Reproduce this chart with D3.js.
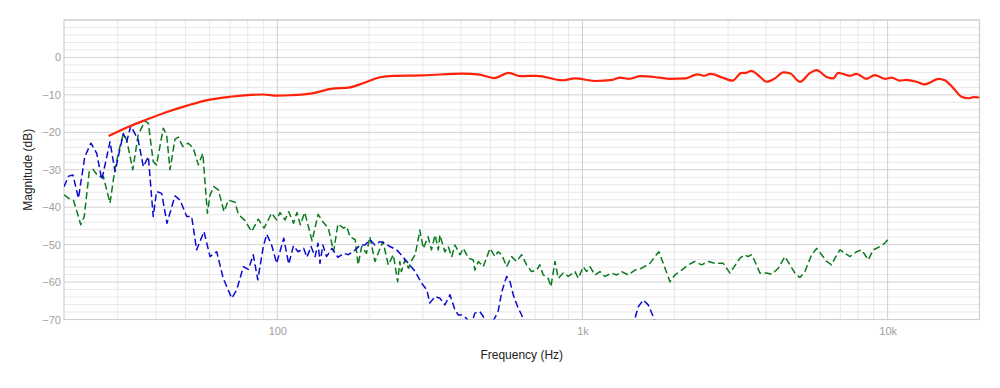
<!DOCTYPE html>
<html>
<head>
<meta charset="utf-8">
<script src="https://cdn.jsdelivr.net/npm/d3@7"></script>
<style>
  body { margin: 0; background: #fff; }
  svg { font-family: "Liberation Sans", Arial, sans-serif; }
  .tick text { fill: #a0a0a0; font-size: 11px; }
  .axis-title { fill: #222; font-size: 12px; }
</style>
</head>
<body>
<svg width="1000" height="388"></svg>
<script>
// mesure principale (rouge)
const redFreq = [28, 33, 37, 43, 50, 59, 70, 82, 90, 100, 110, 130, 150, 173, 191, 217, 240, 300, 405, 460, 513, 574, 625, 708, 860, 945,
  1110, 1250, 1330, 1420, 1550, 1790, 1930, 2180, 2380, 2500, 2630, 2880, 3100, 3310, 3440, 3570, 3810, 4010, 4270, 4550, 4800,
  5160, 5560, 5850, 6310, 6630, 6890, 7520, 7910, 8530, 9080, 9800, 10300, 10970, 11500, 12440, 13250, 13930, 14650, 15400,
  16420, 17470, 18390, 19100, 20000];
const redDb = [-21.0, -18.3, -16.7, -14.7, -13.0, -11.4, -10.5, -10.0, -9.9, -10.2, -10.1, -9.6, -8.4, -8.0, -6.9, -5.3, -4.9, -4.8, -4.3, -4.6, -5.5, -4.1, -5.0, -4.9, -6.1, -5.6,
  -6.3, -6.0, -5.4, -5.7, -5.0, -5.4, -5.7, -5.6, -4.5, -4.9, -4.4, -5.4, -6.2, -4.2, -4.1, -3.6, -5.1, -6.5, -5.6, -4.0, -4.3,
  -6.5, -4.2, -3.4, -5.2, -5.6, -4.1, -4.9, -4.4, -5.7, -4.7, -5.7, -5.4, -6.2, -6.0, -6.5, -7.2, -6.5, -5.7, -6.1,
  -8.2, -10.5, -10.9, -10.6, -10.7];

// bleu (tirets)
const blueFreq = [20, 20.7, 21.4, 22.3, 23.4, 24.5, 25.6, 26.6, 28.3, 29.4, 31.3, 32.1, 33.1, 35.0, 36.4, 37.8, 39.2, 40.2, 41.8, 43.5,
  46.2, 48.0, 50.5, 52.4, 54.4, 57.5, 60.2, 63.3, 66.5, 70.9, 73.6, 77.4, 80.4, 83.4, 86.3, 90, 92.3, 95.8, 99.5, 105, 109, 113, 117,
  122, 125, 129, 133, 136, 138, 141, 145, 151, 158, 165, 171, 180, 187, 194, 201, 209, 217, 225, 234, 246, 252, 269, 283, 297, 309,
  316, 329, 341, 354, 368, 382, 392, 402, 417, 430, 444, 461, 473, 490, 529, 544, 564, 579, 593, 616, 632, 660, 800, 1200, 1450,
  1486, 1523, 1582, 1642, 1706, 1780];
const blueDb = [-34.5, -31.7, -31.4, -37.6, -26.5, -22.9, -25.6, -32.7, -22.5, -30.5, -20.3, -22.5, -18.3, -22.0, -29.2, -26.5, -42.5, -35.8, -36.3, -44.3,
  -37.0, -38.1, -42.5, -42.5, -51.4, -46.5, -53.2, -51.9, -59.0, -64.3, -62.1, -55.9, -56.6, -52.7, -59.4, -50.5, -47.2, -50.1, -55.0, -48.3, -55.2, -50.3, -51.9,
  -51.0, -53.4, -50.5, -53.2, -49.6, -55.0, -50.1, -53.2, -51.0, -53.4, -52.3, -52.7, -51.4, -50.1, -50.1, -48.7, -50.1, -49.2, -49.6, -50.5, -51.4, -52.3, -55.0, -57.2, -60.3, -62.1,
  -65.6, -63.9, -64.3, -66.1, -63.4, -67.4, -68.8, -68.8, -69.7, -72.0, -68.3, -67.9, -69.2, -73.0, -67.9, -62.6, -58.5, -59.9, -63.4, -67.0, -68.8, -73.0, -78.0, -80.0, -73.0,
  -69.7, -66.6, -64.8, -66.1, -69.2, -73.0];

// vert (tirets)
const greenFreq = [20, 20.7, 21.5, 22.7, 23.3, 24.2, 24.9, 25.9, 26.9, 28.3, 29.4, 30.5, 31.3, 32.1, 33.6, 35.0, 36.9, 37.8, 39.2, 40.2,
  42.3, 43.4, 44.5, 46.2, 47.4, 49.0, 51.1, 53.1, 55.1, 57.0, 59.0, 60.2, 62.0, 64.1, 66.9, 69.1, 72.7, 74.5, 78.4, 82.4, 86.6, 90.5,
  95.8, 99.5, 102, 106, 109, 113, 116, 119, 123, 130, 136, 141, 147, 153, 158, 165, 169, 173, 180, 184, 189, 196, 201, 209, 214, 222,
  231, 240, 248, 252, 255, 262, 269, 276, 283, 290, 293, 301, 312, 320, 329, 337, 341, 354, 363, 373, 382, 397, 407, 423, 439, 444,
  456, 473, 498, 517, 529, 544, 564, 586, 608, 632, 656, 681, 708, 725, 744, 772, 788, 813, 833, 865, 898, 945, 969, 1006, 1032,
  1058, 1099, 1141, 1185, 1246, 1294, 1344, 1413, 1486, 1563, 1664, 1728, 1780, 1839, 1935, 2009, 2114, 2222, 2336, 2457, 2584,
  2716, 2893, 3042, 3160, 3281, 3406, 3483, 3584, 3674, 3816, 4012, 4167, 4382, 4606, 4784, 4968, 5158, 5358, 5635, 5853, 6077,
  6310, 6553, 6718, 6977, 7244, 7523, 7914, 8218, 8424, 8636, 8970, 9436, 9798, 10046];
const greenDb = [-36.7, -37.6, -38.2, -44.7, -42.5, -30.5, -29.9, -31.8, -31.8, -38.9, -29.6, -23.8, -20.4, -22.0, -30.0, -20.7, -16.9, -17.6, -27.8, -28.7,
  -18.9, -20.7, -30.0, -21.8, -21.3, -23.8, -22.9, -24.3, -28.7, -25.6, -41.6, -36.7, -34.5, -35.4, -41.2, -38.1, -38.7, -41.9, -43.6, -46.5, -43.2, -45.6,
  -41.6, -43.4, -41.4, -43.4, -41.2, -44.3, -41.4, -44.7, -41.4, -49.0, -41.9, -43.9, -45.6, -51.8, -44.5, -45.6, -45.2, -47.9, -48.7, -55.4, -50.5, -52.3, -47.9, -54.5, -52.3, -49.2,
  -55.4, -52.7, -59.9, -54.5, -57.2, -54.1, -56.3, -54.1, -52.7, -48.3, -46.1, -51.0, -47.9, -51.4, -47.4, -51.4, -47.4, -51.9, -50.5, -53.2, -50.1, -52.7, -51.0, -53.6, -54.1, -56.8,
  -54.5, -55.9, -51.0, -53.2, -51.9, -52.7, -55.9, -53.2, -54.5, -52.7, -55.4, -57.2, -56.8, -55.4, -58.1, -59.0, -61.2, -54.5, -59.0, -57.6, -58.5, -57.2, -59.0, -55.9, -57.2,
  -55.9, -58.1, -57.2, -58.5, -57.6, -58.1, -57.2, -58.1, -56.8, -56.3, -55.0, -53.2, -51.9, -55.0, -59.9, -58.1, -56.8, -55.4, -54.5, -55.4, -54.5,
  -55.0, -55.0, -57.6, -55.6, -53.6, -52.7, -53.2, -52.7, -54.5, -57.6, -57.6, -57.9, -56.3, -53.2, -55.4, -57.6, -58.8, -57.2, -52.7, -51.0, -52.7,
  -54.5, -55.4, -53.6, -51.4, -52.3, -53.2, -51.9, -51.4, -52.7, -54.1, -51.4, -50.5, -49.6, -48.5];

const xTickValues = [100, 1000, 10000];
const xTickLabels = ["100", "1k", "10k"];
const yTickValues = [0, -10, -20, -30, -40, -50, -60, -70];

var svg = d3.select('svg');
const margin = {top: 20, right: 20.5, bottom: 68.5, left: 64};
const width = +svg.attr('width');
const height = +svg.attr('height');
const innerWidth = width - margin.left - margin.right;
const innerHeight = height - margin.top - margin.bottom;

const xScale = d3.scaleLog().domain([20, 20000]).range([0, innerWidth]);
const yScale = d3.scaleLinear().domain([-70, 10]).range([innerHeight, 0]);

const g = svg.append('g')
  .attr('transform', `translate(${margin.left}, ${margin.top})`);

// grille
const minorX = [];
[10, 100, 1000, 10000].forEach(dec => {
  for (let k = 2; k <= 9; k++) {
    const f = dec * k;
    if (f > 20 && f < 20000) minorX.push(f);
  }
});
g.selectAll('.vminor').data(minorX).enter().append('line')
  .attr('x1', d => xScale(d)).attr('x2', d => xScale(d))
  .attr('y1', 0).attr('y2', innerHeight)
  .style('stroke', '#e8e8e8').style('stroke-width', 1);

const minorY = d3.range(-68, 10, 2).filter(v => v % 10 !== 0);
g.selectAll('.hminor').data(minorY).enter().append('line')
  .attr('x1', 0).attr('x2', innerWidth)
  .attr('y1', d => yScale(d)).attr('y2', d => yScale(d))
  .style('stroke', '#e8e8e8').style('stroke-width', 1);

g.selectAll('.vmajor').data(xTickValues).enter().append('line')
  .attr('x1', d => xScale(d)).attr('x2', d => xScale(d))
  .attr('y1', 0).attr('y2', innerHeight)
  .style('stroke', '#cfcfcf').style('stroke-width', 1);

g.selectAll('.hmajor').data(yTickValues.concat([10])).enter().append('line')
  .attr('x1', 0).attr('x2', innerWidth)
  .attr('y1', d => yScale(d)).attr('y2', d => yScale(d))
  .style('stroke', '#d2d2d2').style('stroke-width', 1);

g.append('rect')
  .attr('width', innerWidth).attr('height', innerHeight)
  .style('fill', 'none').style('stroke', '#cfcfcf').style('stroke-width', 1.2);

// axes
const xAxis = g.append('g')
  .attr('transform', `translate(0,${innerHeight})`)
  .call(d3.axisBottom(xScale).tickValues(xTickValues)
    .tickFormat((d, i) => xTickLabels[i]).tickSize(0).tickPadding(8));
xAxis.select('.domain').remove();

const yAxis = g.append('g')
  .call(d3.axisLeft(yScale).tickValues(yTickValues).tickSize(0).tickPadding(3));
yAxis.select('.domain').remove();

// titres des axes
svg.append('text')
  .attr('class', 'axis-title')
  .attr('x', margin.left + innerWidth / 2)
  .attr('y', 359)
  .attr('text-anchor', 'middle')
  .text('Frequency (Hz)');

svg.append('text')
  .attr('class', 'axis-title')
  .attr('transform', `translate(32, ${margin.top + innerHeight / 2}) rotate(-90)`)
  .attr('text-anchor', 'middle')
  .text('Magnitude (dB)');

// courbes
svg.append('defs').append('clipPath').attr('id', 'plot-clip')
  .append('rect').attr('width', innerWidth).attr('height', innerHeight);

const plot = g.append('g').attr('clip-path', 'url(#plot-clip)');

function drawSeries(freqs, dbs, color, dash, width, curve) {
  const pts = freqs.map((f, i) => ({f: f, db: dbs[i]}));
  const line = d3.line()
    .x(d => xScale(d.f))
    .y(d => yScale(d.db))
    .curve(curve);
  plot.append('path')
    .datum(pts)
    .attr('d', line)
    .style('fill', 'none')
    .style('stroke', color)
    .style('stroke-width', width)
    .style('stroke-dasharray', dash)
    .style('stroke-linejoin', 'round');
}

drawSeries(greenFreq, greenDb, '#0b7a1e', '7,3.5', 1.5, d3.curveLinear);
drawSeries(blueFreq, blueDb, '#0a0ad0', '7,3.5', 1.5, d3.curveLinear);
drawSeries(redFreq, redDb, '#ff220a', null, 2.2, d3.curveMonotoneX);
</script>
</body>
</html>
